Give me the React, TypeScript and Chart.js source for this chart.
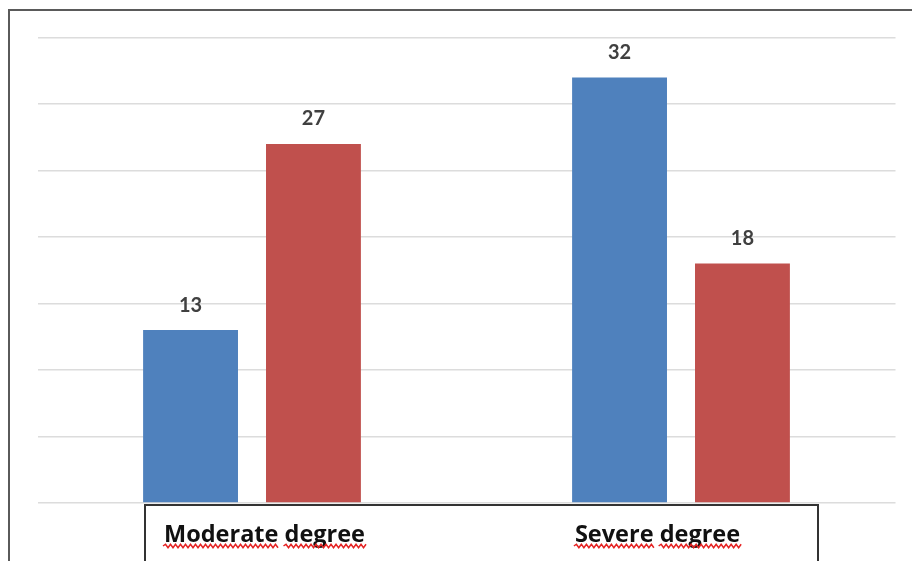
import React, { useEffect, useRef } from "react";
import { Chart, registerables } from "chart.js";

Chart.register(...registerables);

const categories = ["Moderate degree", "Severe degree"];
const seriesBlue = [13, 32];
const seriesRed = [27, 18];
const yTicks = [0, 5, 10, 15, 20, 25, 30, 35];

const BLUE = "#4F81BD";
const RED = "#C0504D";
const LABEL_FAMILY = "'Open Sans', 'Liberation Sans', sans-serif";
const LABEL_FONT = "bold 23.5px " + LABEL_FAMILY;
const VALUE_FONT = "bold 20px Lato, 'Liberation Sans', sans-serif";
// horizontal nudge of each category caption inside the caption box
const LABEL_NUDGE = [12.5, -23.5];

const valueLabels = {
  id: "valueLabels",
  afterDatasetsDraw(chart: any) {
    const ctx = chart.ctx;
    ctx.save();
    ctx.font = VALUE_FONT;
    ctx.fillStyle = "#404040";
    ctx.textAlign = "center";
    ctx.textBaseline = "middle";
    chart.data.datasets.forEach((ds: any, di: number) => {
      const meta = chart.getDatasetMeta(di);
      meta.data.forEach((bar: any, i: number) => {
        ctx.fillText(String(ds.data[i]), bar.x, bar.y - 25);
      });
    });
    ctx.restore();
  },
};

const captions = {
  id: "captions",
  afterDraw(chart: any) {
    const ctx = chart.ctx;
    const xs = chart.scales.x;
    const baseY = chart.chartArea.bottom + 39;
    ctx.save();
    ctx.font = LABEL_FONT;
    ctx.textAlign = "left";
    ctx.textBaseline = "alphabetic";
    categories.forEach((label, i) => {
      const cx = xs.getPixelForTick(i) + LABEL_NUDGE[i];
      const total = ctx.measureText(label).width;
      let x0 = cx - total / 2;
      ctx.fillStyle = "#111111";
      ctx.fillText(label, x0, baseY);
      // spell-check style wavy underline under each word
      ctx.strokeStyle = "#E52222";
      ctx.lineWidth = 1.5;
      const y = baseY + 4;
      const words = label.split(" ");
      words.forEach((w, wi) => {
        const ww = ctx.measureText(w).width;
        ctx.beginPath();
        let up = true;
        ctx.moveTo(x0 - 1, y);
        for (let x = x0 + 1.5; x <= x0 + ww + 2; x += 2.5) {
          ctx.lineTo(x, up ? y - 1.8 : y + 1.8);
          up = !up;
        }
        ctx.stroke();
        x0 += ww + (wi < words.length - 1 ? ctx.measureText(" ").width : 0);
      });
    });
    ctx.restore();
  },
};

export default function App() {
  const ref = useRef<HTMLCanvasElement>(null);
  useEffect(() => {
    if (!ref.current) return;
    const chart = new Chart(ref.current, {
      type: "bar",
      data: {
        labels: categories,
        datasets: [
          { data: seriesBlue, backgroundColor: BLUE, borderWidth: 0 },
          { data: seriesRed, backgroundColor: RED, borderWidth: 0 },
        ],
      },
      options: {
        responsive: false,
        animation: false,
        events: [],
        barPercentage: 0.772,
        categoryPercentage: 0.573,
        layout: { padding: { top: 37.5, left: 37.5, right: 16.5, bottom: 0 } },
        plugins: { legend: { display: false }, tooltip: { enabled: false } },
        scales: {
          y: {
            min: yTicks[0],
            max: yTicks[yTicks.length - 1],
            afterBuildTicks: (s: any) => {
              s.ticks = yTicks.map((v) => ({ value: v }));
            },
            afterFit: (s: any) => {
              s.width = 0;
            },
            ticks: { display: false },
            grid: { color: "#DCDCDC", lineWidth: 1.5, drawTicks: false },
            border: { display: false },
          },
          x: {
            afterFit: (s: any) => {
              s.height = 58;
            },
            grid: { display: false, drawTicks: false },
            border: { display: false },
            ticks: { display: false },
          },
        },
      },
      plugins: [valueLabels, captions],
    });
    return () => chart.destroy();
  }, []);

  return (
    <div style={{ position: "fixed", left: 0, top: 0, width: 912, height: 561, overflow: "hidden", background: "#fff" }}>
      <div
        style={{
          position: "absolute",
          left: 8,
          top: 9,
          width: 940,
          height: 600,
          border: "2px solid #5A5A5A",
          boxSizing: "border-box",
        }}
      />
      <div
        style={{
          position: "absolute",
          left: 144,
          top: 504,
          width: 675,
          height: 80,
          border: "2px solid #333333",
          boxSizing: "border-box",
        }}
      />
      <canvas ref={ref} width={912} height={561} style={{ position: "absolute", left: 0, top: 0, width: 912, height: 561 }} />
    </div>
  );
}
